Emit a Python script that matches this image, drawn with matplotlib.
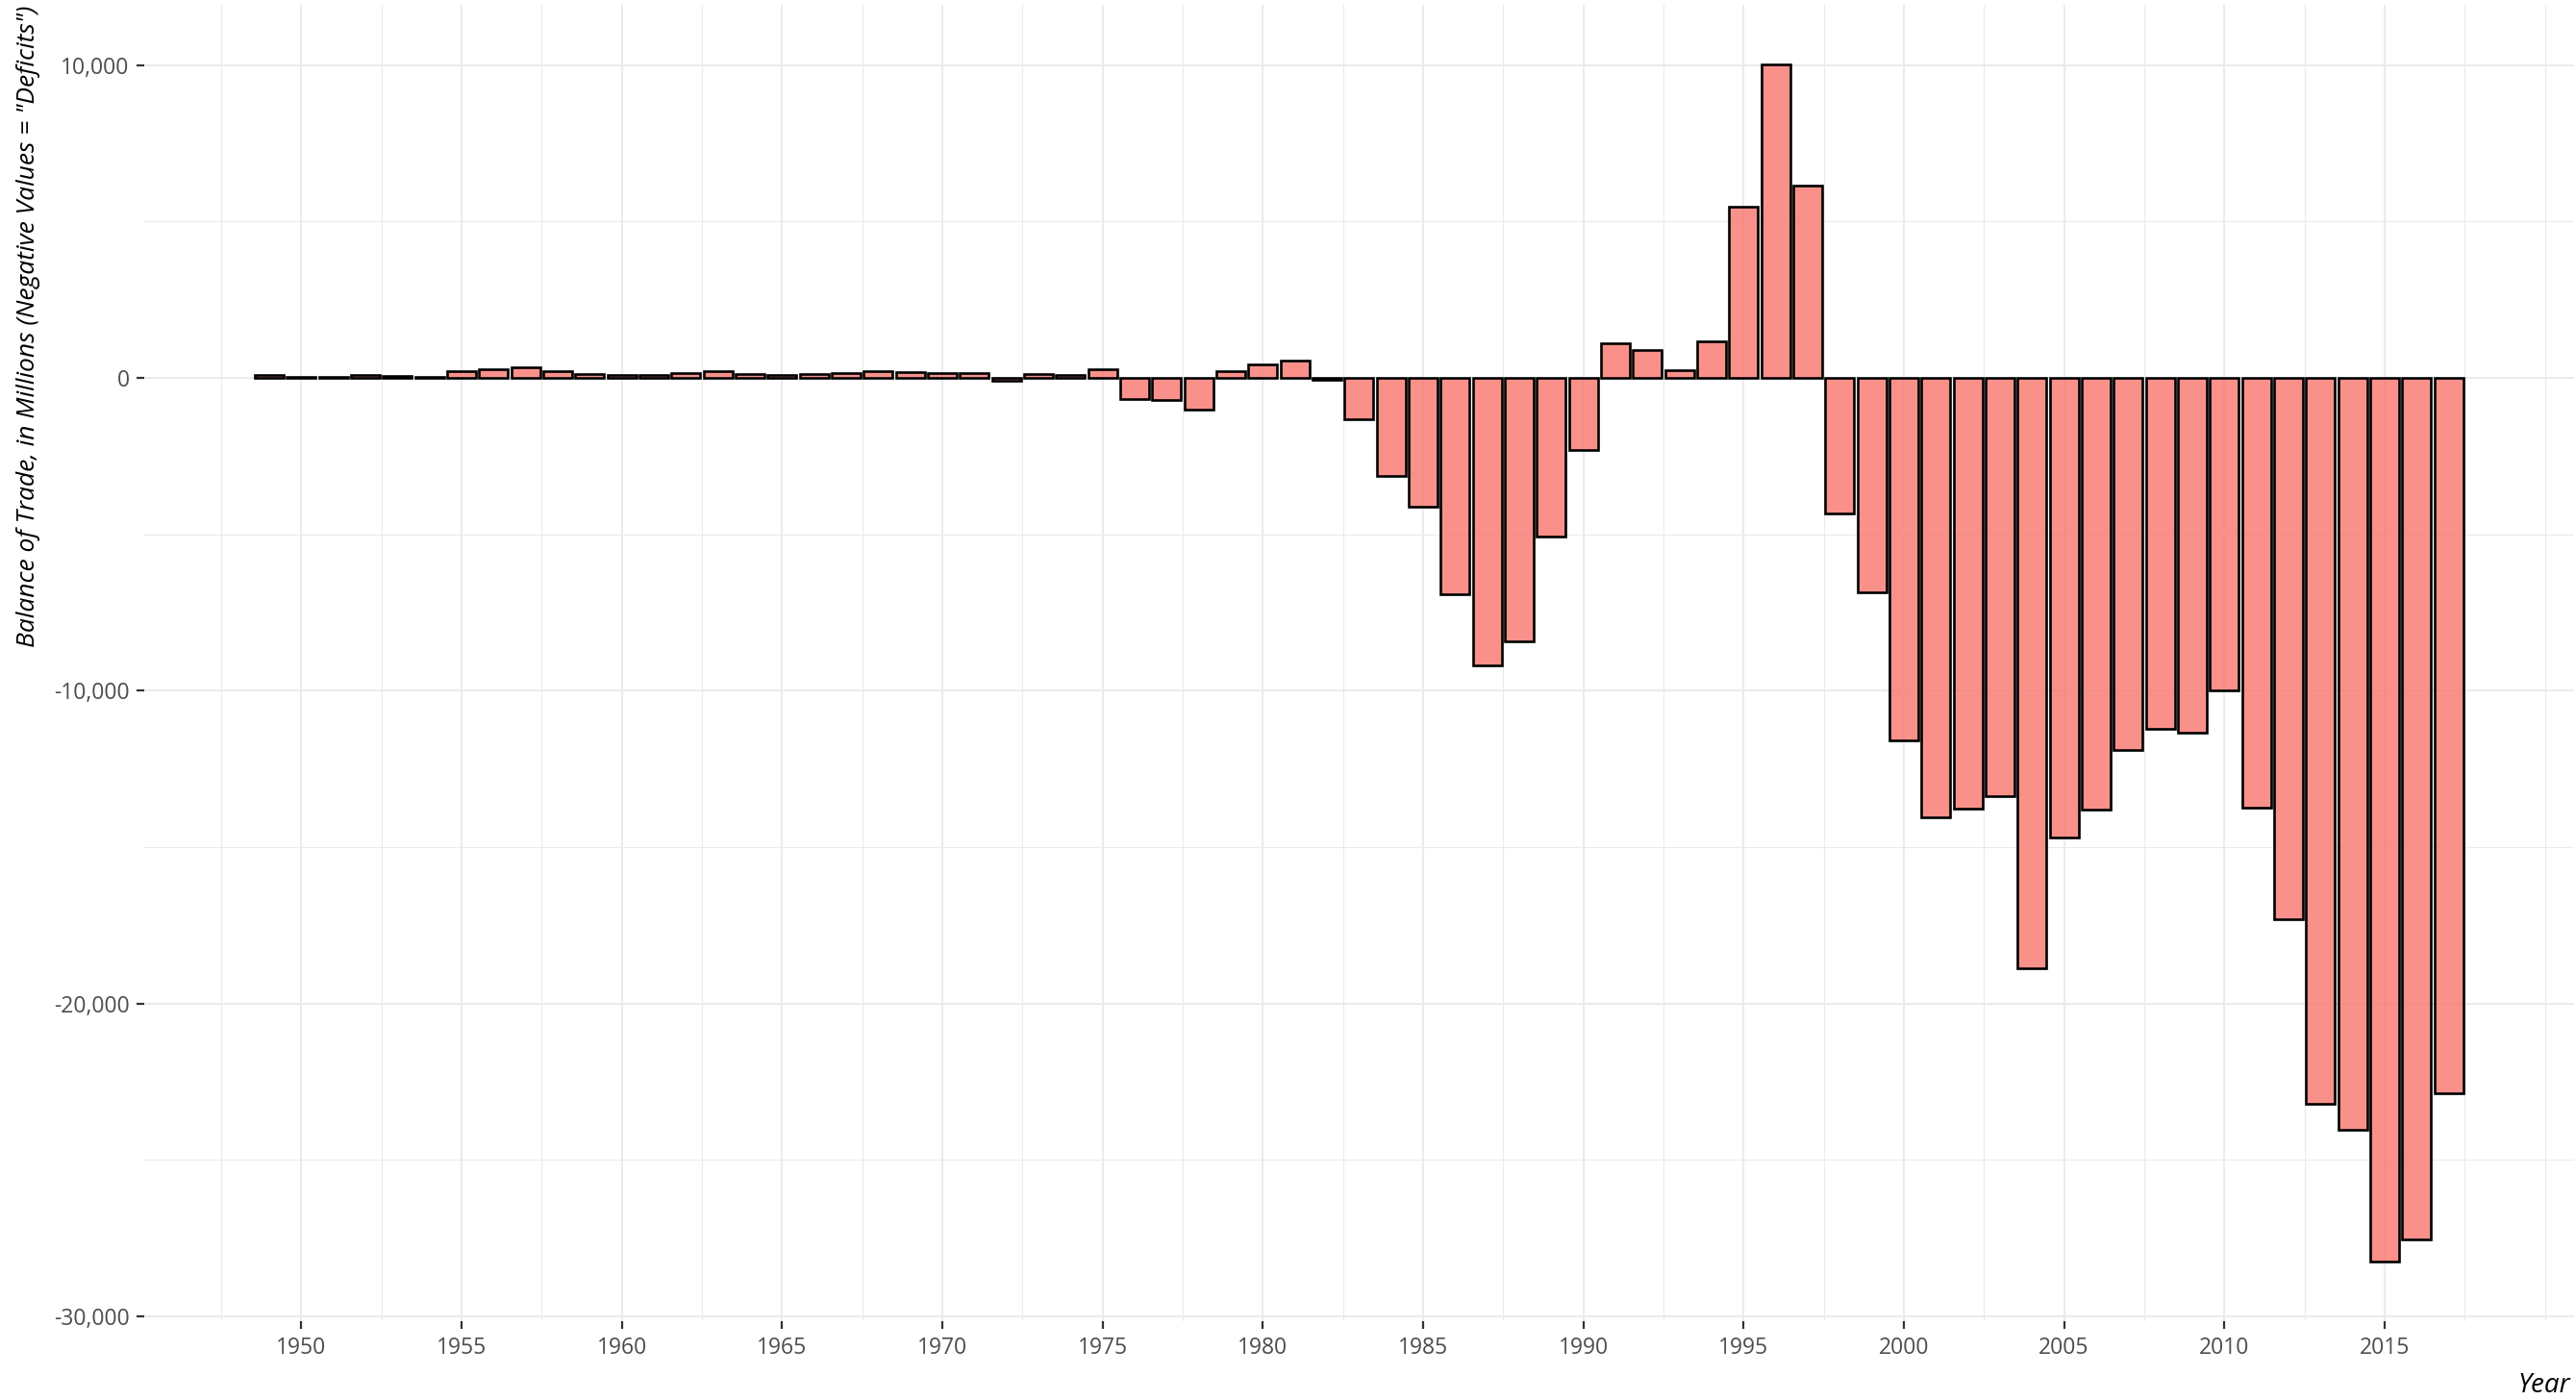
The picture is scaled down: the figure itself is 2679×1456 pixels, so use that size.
import matplotlib
matplotlib.use("Agg")
import matplotlib.pyplot as plt
from matplotlib.ticker import FuncFormatter, FixedLocator

plt.rcParams['font.family'] = ['Open Sans', 'DejaVu Sans']

# Data: balance of trade per year, millions
YEARS = list(range(1949, 2018))
BALANCE = [
    80, 20, 40, 80, 70, 40, 210, 270, 350, 205,          # 1949-1958
    120, 90, 100, 165, 225, 135, 90, 115, 145, 215,      # 1959-1968
    195, 155, 145, -100, 125, 100, 265, -670, -700, -1020,  # 1969-1978
    220, 430, 550, -50, -1330, -3130, -4130, -6910, -9200, -8420,  # 1979-1988
    -5060, -2320, 1120, 900, 240, 1180, 5480, 10010, 6150, -4340,  # 1989-1998
    -6870, -11600, -14040, -13760, -13380, -18880, -14700, -13800, -11910, -11230,  # 1999-2008
    -11350, -9980, -13730, -17300, -23200, -24040, -28260, -27530, -22870,  # 2009-2017
]
X_BREAKS = [1950, 1955, 1960, 1965, 1970, 1975, 1980, 1985, 1990, 1995, 2000, 2005, 2010, 2015]
Y_BREAKS = [-30000, -20000, -10000, 0, 10000]
Y_MINOR = [-25000, -15000, -5000, 5000]

YLABEL = 'Balance of Trade, in Millions (Negative Values = "Deficits")'
XLABEL = "Year"

GRID = "#EBEBEB"
TEXT_GREY = "#4D4D4D"

fig = plt.figure(figsize=(26.79, 14.56), dpi=100)
ax = fig.add_axes([0.05599, 0.05598, 0.9431, 0.9405])

ax.bar(YEARS, BALANCE, width=0.9, facecolor=(0.973, 0.463, 0.427, 0.8),
       edgecolor="black", linewidth=1.9, zorder=3)

ax.set_xlim(1945.1, 2020.9)
ax.set_ylim(-30173, 11923)

# ggplot-like grid: majors plus midpoint minors
x_minor = [b + 2.5 for b in X_BREAKS[:-1]] + [1947.5, 2017.5, 2020]
ax.xaxis.set_major_locator(FixedLocator(X_BREAKS))
ax.xaxis.set_minor_locator(FixedLocator(x_minor))
ax.yaxis.set_major_locator(FixedLocator(Y_BREAKS))
ax.yaxis.set_minor_locator(FixedLocator(Y_MINOR))
ax.yaxis.set_major_formatter(FuncFormatter(lambda v, p: f"{v:,.0f}"))

ax.grid(which="major", color=GRID, linewidth=1.5, zorder=0)
ax.grid(which="minor", color=GRID, linewidth=0.8, zorder=0)
ax.set_axisbelow(True)

for s in ax.spines.values():
    s.set_visible(False)

ax.tick_params(which="major", length=6, width=1.6, color="#333333",
               labelsize=16.5, labelcolor=TEXT_GREY, pad=5)
ax.tick_params(which="minor", length=0)

ax.set_ylabel(YLABEL, fontsize=19, style="italic", loc="top")
ax.yaxis.set_label_coords(-0.0427, 1.0)
ax.set_xlabel(XLABEL, fontsize=20, style="italic", loc="right")
ax.xaxis.set_label_coords(0.9986, -0.038)

fig.savefig("out.png", dpi=100)
